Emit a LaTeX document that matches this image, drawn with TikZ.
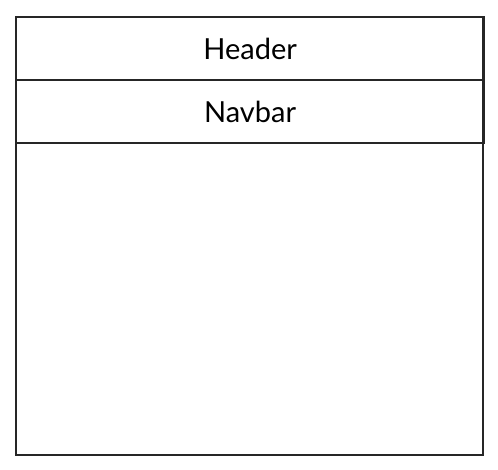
\documentclass[tikz,border=0pt]{standalone}
\usepackage{fontspec}
\setmainfont{Lato}
\begin{document}
\begin{tikzpicture}[x=1pt,y=1pt,
  frame/.style={draw=black!85,line width=2.2pt},
  band/.style={draw=black!85,line width=2.2pt,minimum width=468pt,minimum height=63pt,inner sep=0pt,font=\fontsize{29}{33}\selectfont},
]
\useasboundingbox (0,0) rectangle (498,470);
% page outline
\node[frame,minimum width=467pt,minimum height=438pt,inner sep=0pt,anchor=north west] (page) at (15,454) {};
% header and navigation bars
\node[band,anchor=north west] (header) at (15,454) {Header};
\node[band,anchor=north west] (navbar) at (15,391) {Navbar};
\end{tikzpicture}
\end{document}
